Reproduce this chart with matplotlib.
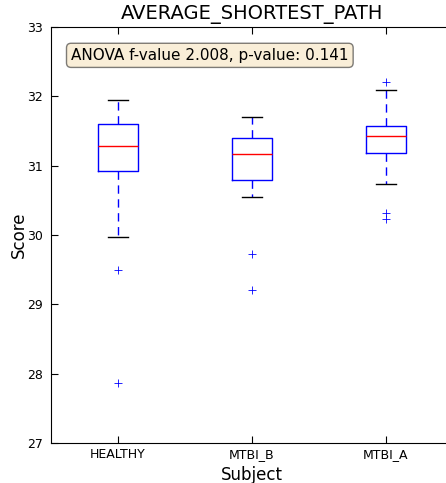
import matplotlib.pyplot as plt

# box statistics
subjects = ['HEALTHY', 'MTBI_B', 'MTBI_A']
whislo = [29.97, 30.55, 30.74]
q1 = [30.92, 30.79, 31.18]
med = [31.28, 31.17, 31.43]
q3 = [31.60, 31.40, 31.57]
whishi = [31.95, 31.70, 32.09]
fliers = [[29.50, 27.87], [29.73, 29.21], [32.21, 30.32, 30.23]]

stats = []
for i, name in enumerate(subjects):
    stats.append(dict(label=name, whislo=whislo[i], q1=q1[i], med=med[i],
                      q3=q3[i], whishi=whishi[i], fliers=fliers[i]))

fig = plt.figure(figsize=(4.46, 4.83), dpi=100)
ax = fig.add_axes([0.1143, 0.0828, 0.9014, 0.8612])

ax.bxp(stats, positions=[1, 2, 3], widths=0.3,
       boxprops=dict(color='blue'),
       medianprops=dict(color='red'),
       whiskerprops=dict(color='blue', linestyle=(0, (6, 4))),
       capprops=dict(color='black'),
       flierprops=dict(marker='+', markeredgecolor='blue', markersize=6,
                       markeredgewidth=0.6, linestyle='none'))

ax.set_xlim(0.5, 3.5)
ax.set_ylim(27, 33)
ax.tick_params(direction='in', top=True, right=True, labelsize=9, length=5)
ax.tick_params(axis='y', pad=6)
ax.set_title('AVERAGE_SHORTEST_PATH', fontsize=14)
ax.set_xlabel('Subject', fontsize=12)
ax.set_ylabel('Score', fontsize=12, labelpad=-1)
ax.text(0.05, 0.95, 'ANOVA f-value 2.008, p-value: 0.141', transform=ax.transAxes,
        fontsize=11, va='top', bbox=dict(boxstyle='round', facecolor='wheat', alpha=0.5))

plt.savefig('out.png')
